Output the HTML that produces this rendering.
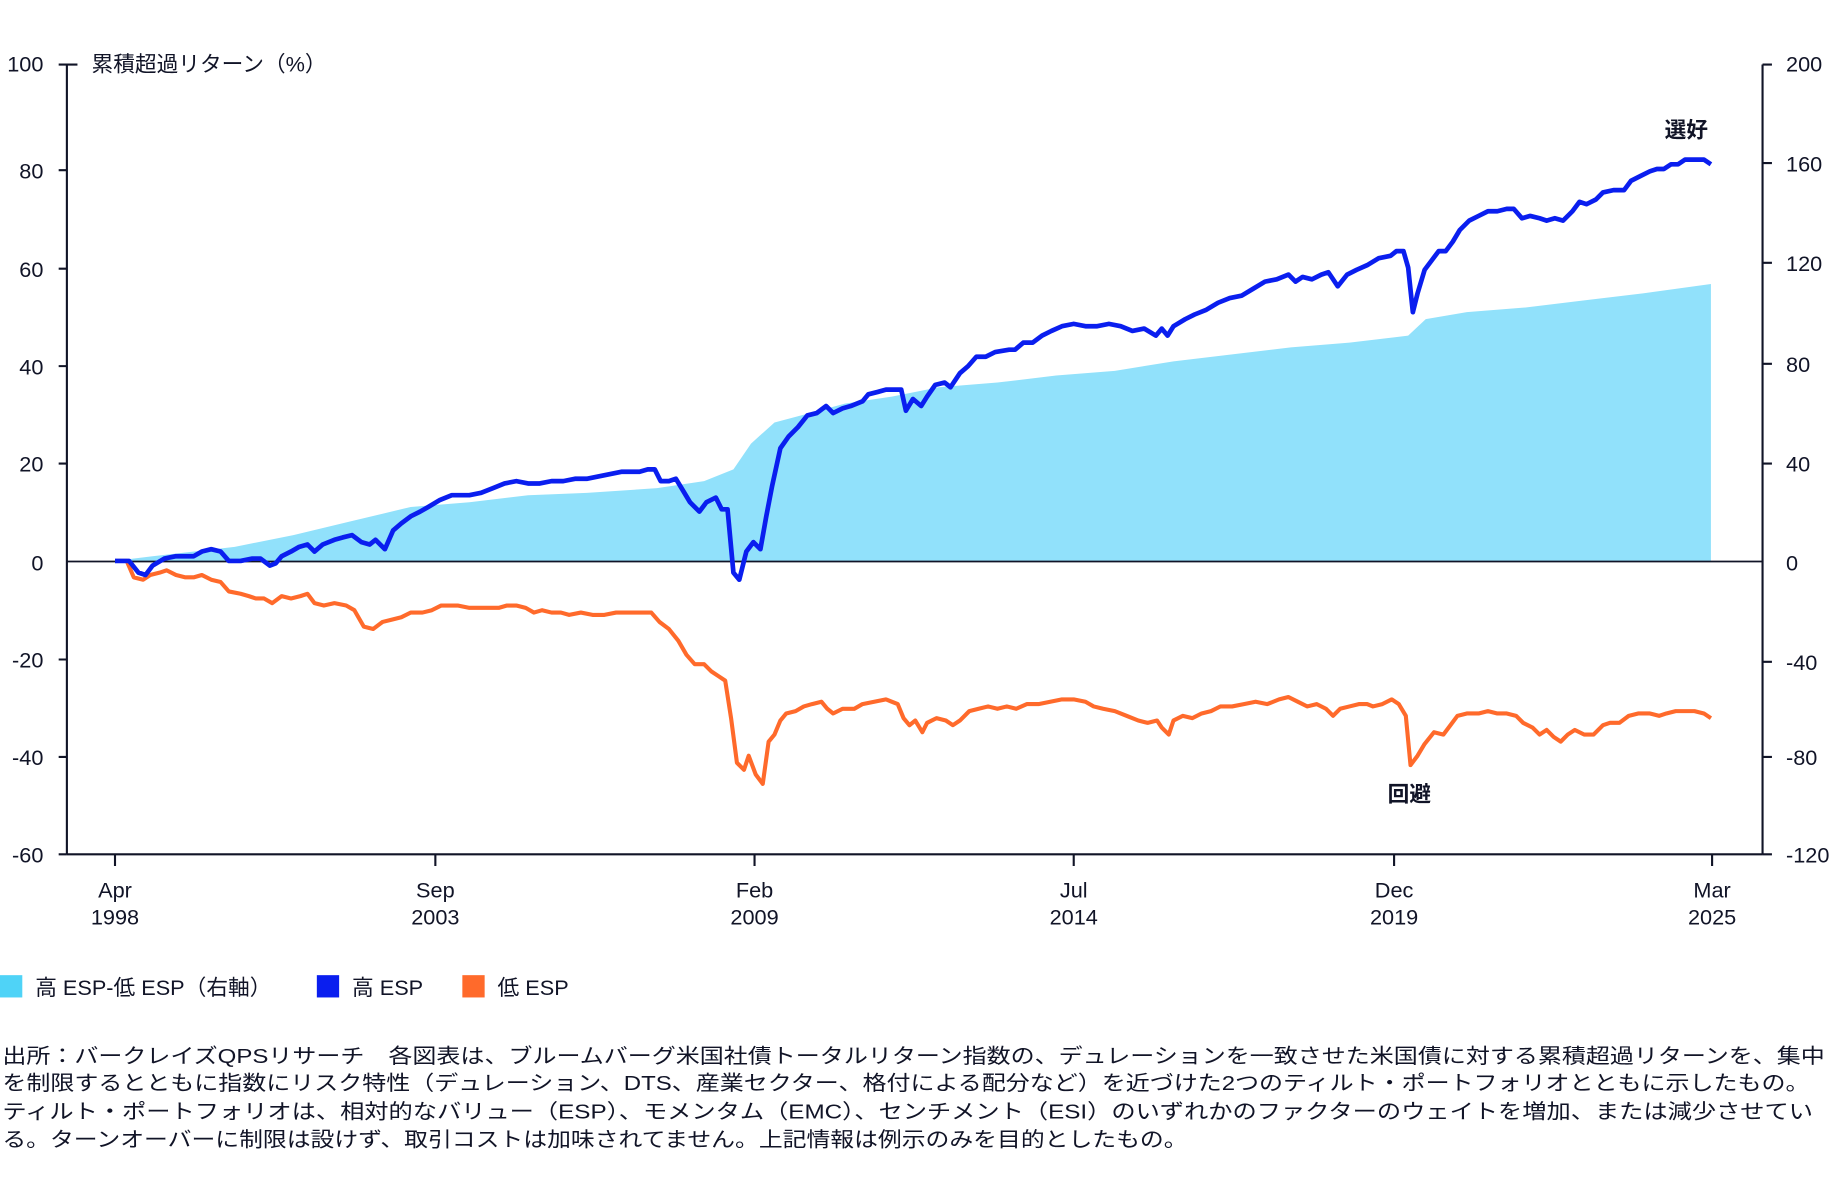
<!DOCTYPE html>
<html><head><meta charset="utf-8"><style>
html,body{margin:0;padding:0;background:#fff}
svg{display:block}
text{font-family:"Liberation Sans","Noto Sans CJK JP",sans-serif;fill:#111427}
</style></head><body>
<svg width="1840" height="1200" viewBox="0 0 1568 1022.6" preserveAspectRatio="none">
<g font-size="18.5">
<polygon fill="#91e1fb" points="98,478 130,474 200,466 250,456 300,444 350,432 400,428 450,422 500,420 560,416 600,410 625,400 640,378 660,360 690,352 720,344 760,338 800,330 850,326 900,320 950,316 1000,308 1050,302 1100,296 1150,292 1200,286 1215,272 1250,266 1300,262 1350,256 1400,250 1458,242 1458,478"/>
<line x1="57" y1="478.5" x2="1502" y2="478.5" stroke="#111427" stroke-width="1.5"/>
<polyline fill="none" stroke="#ff6a2b" stroke-width="3.5" stroke-linejoin="round" points="98,478 108,478 114,492 122,494 128,490 136,488 142,486 150,490 158,492 165,492 172,490 180,494 188,496 195,504 205,506 212,508 218,510 225,510 232,514 240,508 248,510 256,508 262,506 268,514 276,516 285,514 295,516 302,520 310,534 318,536 326,530 334,528 342,526 350,522 360,522 368,520 376,516 390,516 400,518 410,518 425,518 432,516 440,516 448,518 455,522 462,520 470,522 478,522 485,524 495,522 505,524 515,524 525,522 545,522 555,522 562,530 570,536 578,546 585,558 592,566 600,566 606,572 612,576 618,580 623,612 628,650 634,656 638,644 644,660 650,668 655,632 660,626 665,614 670,608 678,606 685,602 692,600 700,598 705,604 710,608 718,604 728,604 735,600 745,598 755,596 765,600 770,612 775,618 780,614 786,624 790,616 798,612 806,614 812,618 818,614 826,606 834,604 842,602 850,604 858,602 866,604 875,600 885,600 895,598 905,596 915,596 925,598 932,602 940,604 950,606 960,610 970,614 978,616 986,614 990,620 996,626 1000,614 1008,610 1016,612 1024,608 1032,606 1040,602 1050,602 1060,600 1070,598 1080,600 1090,596 1098,594 1106,598 1114,602 1122,600 1130,604 1136,610 1142,604 1150,602 1158,600 1165,600 1170,602 1178,600 1186,596 1192,600 1198,610 1202,652 1208,644 1214,634 1222,624 1230,626 1236,618 1242,610 1250,608 1260,608 1268,606 1276,608 1284,608 1292,610 1298,616 1306,620 1312,626 1318,622 1324,628 1330,632 1336,626 1342,622 1350,626 1358,626 1366,618 1372,616 1380,616 1388,610 1396,608 1406,608 1414,610 1420,608 1428,606 1436,606 1444,606 1452,608 1458,612"/>
<polyline fill="none" stroke="#0a1eef" stroke-width="4" stroke-linejoin="round" points="98,478 110,478 118,488 124,490 130,482 140,476 150,474 165,474 172,470 180,468 188,470 195,478 205,478 215,476 222,476 230,482 235,480 240,474 248,470 255,466 262,464 268,470 275,464 285,460 292,458 300,456 308,462 315,464 320,460 328,468 335,452 342,446 350,440 358,436 365,432 375,426 385,422 400,422 410,420 420,416 430,412 440,410 450,412 460,412 470,410 480,410 490,408 500,408 510,406 520,404 530,402 545,402 552,400 558,400 563,410 570,410 576,408 582,418 588,428 596,436 602,428 610,424 615,434 620,434 625,488 630,494 636,470 642,462 648,468 653,440 658,414 665,382 672,372 680,364 688,354 696,352 704,346 710,352 718,348 725,346 735,342 740,336 748,334 755,332 768,332 772,350 778,340 785,346 790,338 797,328 805,326 810,330 818,318 825,312 832,304 840,304 848,300 860,298 865,298 872,292 880,292 888,286 896,282 905,278 915,276 925,278 935,278 945,276 955,278 965,282 975,280 985,286 990,280 995,286 1000,278 1010,272 1018,268 1028,264 1038,258 1048,254 1058,252 1068,246 1078,240 1088,238 1098,234 1104,240 1110,236 1118,238 1126,234 1132,232 1140,244 1148,234 1156,230 1165,226 1175,220 1185,218 1190,214 1196,214 1200,228 1204,266 1208,250 1214,230 1220,222 1226,214 1232,214 1238,206 1244,196 1252,188 1260,184 1268,180 1276,180 1284,178 1290,178 1297,186 1304,184 1312,186 1318,188 1325,186 1332,188 1340,180 1346,172 1352,174 1360,170 1366,164 1375,162 1384,162 1390,154 1398,150 1406,146 1412,144 1418,144 1424,140 1430,140 1436,136 1446,136 1452,136 1458,140"/>
<g stroke="#111427" stroke-width="1.8" fill="none">
<line x1="57" y1="55" x2="57" y2="728"/><line x1="1502" y1="55" x2="1502" y2="728"/>
<line x1="57" y1="728" x2="1502" y2="728"/>
<path d="M50 55H66M50 145H57M50 229H57M50 312H57M50 395H57M50 562H57M50 645H57M50 728H57"/>
<path d="M1502 55H1510M1502 139H1510M1502 224H1510M1502 310H1510M1502 395H1510M1502 564H1510M1502 645H1510M1502 728H1510"/>
<path d="M98 728V738M371 728V738M643 728V738M915 728V738M1188 728V738M1459 728V738"/>
</g>
<g text-anchor="end">
<text x="37" y="61">100</text><text x="37" y="152">80</text><text x="37" y="236">60</text><text x="37" y="319">40</text><text x="37" y="402">20</text><text x="37" y="486">0</text><text x="37" y="569">-20</text><text x="37" y="652">-40</text><text x="37" y="735">-60</text>
</g>
<g>
<text x="1522" y="61">200</text><text x="1522" y="146">160</text><text x="1522" y="231">120</text><text x="1522" y="317">80</text><text x="1522" y="402">40</text><text x="1522" y="486">0</text><text x="1522" y="571">-40</text><text x="1522" y="652">-80</text><text x="1522" y="735">-120</text>
</g>
<text x="78" y="61">累積超過リターン（%）</text>
<g text-anchor="middle">
<text x="98" y="765">Apr</text><text x="98" y="788">1998</text>
<text x="371" y="765">Sep</text><text x="371" y="788">2003</text>
<text x="643" y="765">Feb</text><text x="643" y="788">2009</text>
<text x="915" y="765">Jul</text><text x="915" y="788">2014</text>
<text x="1188" y="765">Dec</text><text x="1188" y="788">2019</text>
<text x="1459" y="765">Mar</text><text x="1459" y="788">2025</text>
</g>
<text x="1437" y="117" font-weight="bold" text-anchor="middle">選好</text>
<text x="1201" y="683" font-weight="bold" text-anchor="middle">回避</text>
<rect x="0" y="831" width="19" height="19" fill="#4fd3f7"/><text x="30" y="848">高 ESP-低 ESP（右軸）</text>
<rect x="270" y="831" width="19" height="19" fill="#0a1eef"/><text x="300" y="848">高 ESP</text>
<rect x="394" y="831" width="19" height="19" fill="#ff6a2b"/><text x="424" y="848">低 ESP</text>
</g>
<g font-size="17.5">
<text x="2" y="906" textLength="1553" lengthAdjust="spacingAndGlyphs">出所：バークレイズQPSリサーチ　各図表は、ブルームバーグ米国社債トータルリターン指数の、デュレーションを一致させた米国債に対する累積超過リターンを、集中</text>
<text x="2" y="929" textLength="1540" lengthAdjust="spacingAndGlyphs">を制限するとともに指数にリスク特性（デュレーション、DTS、産業セクター、格付による配分など）を近づけた2つのティルト・ポートフォリオとともに示したもの。</text>
<text x="2" y="953" textLength="1543" lengthAdjust="spacingAndGlyphs">ティルト・ポートフォリオは、相対的なバリュー（ESP）、モメンタム（EMC）、センチメント（ESI）のいずれかのファクターのウェイトを増加、または減少させてい</text>
<text x="2" y="977" textLength="1010" lengthAdjust="spacingAndGlyphs">る。ターンオーバーに制限は設けず、取引コストは加味されてません。上記情報は例示のみを目的としたもの。</text>
</g>
</svg>
</body></html>
